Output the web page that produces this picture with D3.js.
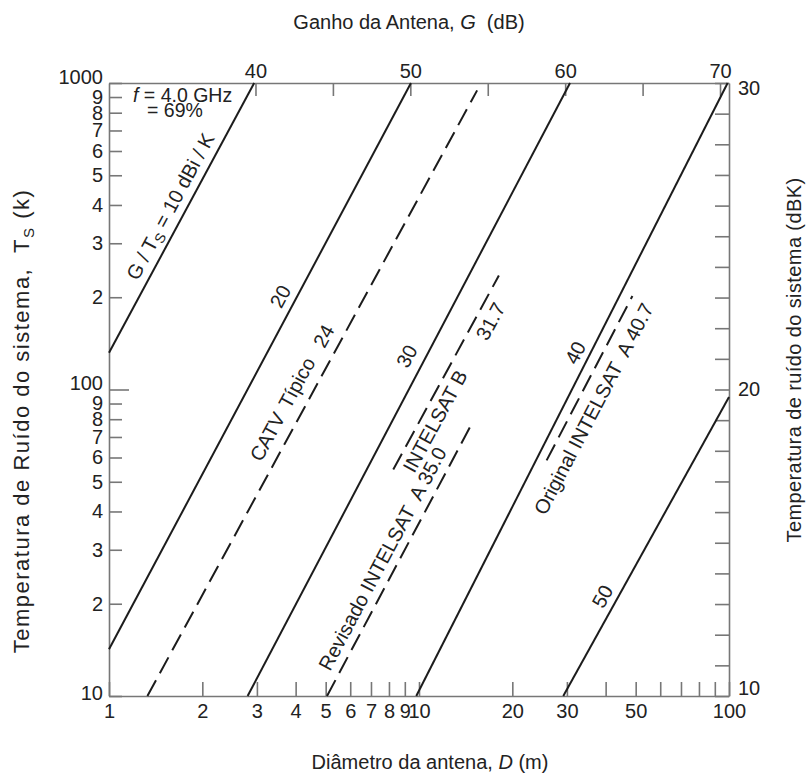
<!DOCTYPE html>
<html>
<head>
<meta charset="utf-8">
<script src="https://cdn.jsdelivr.net/npm/d3@7"></script>
<style>
  body { margin: 0; background: #fff; }
  text { font-family: "Liberation Sans", Arial, Helvetica, sans-serif; fill: #222; white-space: pre; }
</style>
</head>
<body>
<div id="chart"></div>
<script>
// values
// G/T lines: endpoints in (diameter m, noise temperature K)
const gtValues = [10, 20, 24, 30, 31.7, 35.0, 40, 40.7, 50];
const startD = [1, 1, 1.33, 2.80, 8.26, 5.05, 9.8, 25.8, 29.2];
const startT = [131.7, 14.2, 10, 10, 54.8, 10, 10, 58.7, 10];
const endD = [2.94, 9.42, 15.4, 30.7, 18.1, 14.9, 99, 48.8, 100];
const endT = [1000, 1000, 946, 1000, 235.5, 78.3, 1000, 201.8, 94.5];
const dashedValues = [24, 31.7, 35.0, 40.7];

// labels along the lines (anchor in data coords, line index for angle)
const labelTexts = ["20", "CATV", "Típico", "24", "30", "INTELSAT B", "31.7",
  "Revisado INTELSAT  A 35.0", "40", "Original INTELSAT  A 40.7", "50"];
const labelD = [3.61, 3.28, 4.08, 4.98, 9.24, 11.4, 17.2, 7.71, 32.3, 37.0, 39.5];
const labelT = [200, 69.7, 104.5, 148.4, 127.6, 78.3, 166, 27.9, 131, 86, 21];
const labelLine = [1, 2, 2, 2, 3, 4, 4, 5, 6, 7, 8];
const gtLabelD = 1.597, gtLabelT = 393;

// axes
const bottomTicks = [1, 2, 3, 4, 5, 6, 7, 8, 9, 10, 20, 30, 40, 50, 60, 70, 80, 90, 100];
const bottomLabels = [1, 2, 3, 4, 5, 6, 7, 8, 9, 10, 20, 30, 50, 100];
const leftTicks = [10, 20, 30, 40, 50, 60, 70, 80, 90, 100, 200, 300, 400, 500, 600, 700, 800, 900, 1000];
const gainDomain = [30.54, 70.58];
const gainTicks = [40, 45, 50, 55, 60, 65, 70];
const gainLabels = [40, 50, 60, 70];
const dbkDomain = [10, 30];
const dbkTicks = d3.range(10, 31, 1);
const dbkLabels = [10, 20, 30];

var margin = { top: 83, left: 109 },
  width = 620,
  height = 613;

var svg = d3.select("#chart").append("svg")
  .attr("width", 808).attr("height", 773);

var plot = svg.append("g")
  .attr("transform", "translate(" + margin.left + "," + margin.top + ")");

var x = d3.scaleLog().domain([1, 100]).range([0, width]);
var y = d3.scaleLog().domain([10, 1000]).range([height, 0]);
var xg = d3.scaleLinear().domain(gainDomain).range([0, width]);
var yDb = d3.scaleLinear().domain(dbkDomain).range([height, 0]);

var axisColor = "#777";
var fontSize = 20;

function styleAxis(sel) {
  sel.attr("font-size", null).attr("font-family", null);
  sel.select(".domain").attr("stroke", axisColor).attr("stroke-width", 1.6);
  sel.selectAll(".tick line").attr("stroke", axisColor).attr("stroke-width", 1.6);
  sel.selectAll(".tick text").style("font-size", fontSize + "px").attr("fill", "#222");
}

// bottom
var gX = plot.append("g")
  .attr("transform", "translate(0," + height + ")")
  .call(d3.axisBottom(x).tickValues(bottomTicks).tickSize(-14).tickSizeOuter(0).tickPadding(8)
    .tickFormat(function (d) { return bottomLabels.indexOf(d) >= 0 ? d : ""; }))
  .call(styleAxis);

// left
var gY = plot.append("g")
  .call(d3.axisLeft(y).tickValues(leftTicks).tickSize(-13).tickSizeOuter(0).tickPadding(6)
    .tickFormat(function (d) { return [10, 100, 1000].indexOf(d) >= 0 ? d : String(d).charAt(0); }))
  .call(styleAxis);
gY.selectAll(".tick line").filter(function (d) { return d === 100; }).attr("x2", 20);
gY.selectAll(".tick text").filter(function (d) { return d === 100 || d === 1000; }).attr("y", -6);
gY.selectAll(".tick text").filter(function (d) { return d === 10; }).attr("y", -3);

// top (gain)
var gTop = plot.append("g")
  .call(d3.axisTop(xg).tickValues(gainTicks).tickSize(-13).tickSizeOuter(0).tickPadding(5)
    .tickFormat(function (d) { return gainLabels.indexOf(d) >= 0 ? d : ""; }))
  .call(styleAxis);

// right (dBK)
var gR = plot.append("g")
  .attr("transform", "translate(" + width + ",0)")
  .call(d3.axisRight(yDb).tickValues(dbkTicks).tickSize(-14).tickSizeOuter(0).tickPadding(9)
    .tickFormat(function (d) { return dbkLabels.indexOf(d) >= 0 ? d : ""; }))
  .call(styleAxis);
gR.selectAll(".tick text").filter(function (d) { return d === 30; }).attr("y", 5);
gR.selectAll(".tick text").filter(function (d) { return d === 10; }).attr("y", -8);

// G/T lines
var lines = gtValues.map(function (v, i) {
  return { v: v, pts: [[startD[i], startT[i]], [endD[i], endT[i]]] };
});
var lineGen = d3.line()
  .x(function (d) { return x(d[0]); })
  .y(function (d) { return y(d[1]); });

plot.selectAll("path.gt")
  .data(lines)
  .join("path")
  .attr("class", "gt")
  .attr("d", function (d) { return lineGen(d.pts); })
  .attr("fill", "none")
  .attr("stroke", "#1c1c1c")
  .attr("stroke-width", 2)
  .attr("stroke-dasharray", function (d) { return dashedValues.indexOf(d.v) >= 0 ? "18,8" : null; });

function lineAngle(i) {
  var p = lines[i].pts;
  return Math.atan2(y(p[1][1]) - y(p[0][1]), x(p[1][0]) - x(p[0][0])) * 180 / Math.PI;
}

// line labels
plot.selectAll("text.lbl")
  .data(labelTexts)
  .join("text")
  .attr("class", "lbl")
  .attr("text-anchor", "middle")
  .attr("dominant-baseline", "middle")
  .style("font-size", fontSize + "px")
  .attr("transform", function (d, i) {
    return "translate(" + x(labelD[i]) + "," + y(labelT[i]) + ") rotate(" + lineAngle(labelLine[i]) + ")";
  })
  .text(function (d) { return d; });

// G/Ts label with subscript
var gtLbl = plot.append("text")
  .attr("text-anchor", "middle")
  .attr("dominant-baseline", "middle")
  .style("font-size", fontSize + "px")
  .attr("transform", "translate(" + x(gtLabelD) + "," + y(gtLabelT) + ") rotate(" + lineAngle(0) + ")");
gtLbl.append("tspan").text("G / T");
gtLbl.append("tspan").attr("dy", 5).style("font-size", "14px").text("S");
gtLbl.append("tspan").attr("dy", -5).text(" = 10 dBi / K");

// f / efficiency note
var note = plot.append("text").attr("x", 24).attr("y", 19).style("font-size", "19.5px");
note.append("tspan").style("font-style", "italic").text("f");
note.append("tspan").text(" = 4.0 GHz");
plot.append("text").attr("x", 38).attr("y", 34).style("font-size", "19.5px").text("= 69%");

// axis titles
var topTitle = svg.append("text")
  .attr("x", 409).attr("y", 29)
  .attr("text-anchor", "middle")
  .style("font-size", fontSize + "px");
topTitle.append("tspan").text("Ganho da Antena, ");
topTitle.append("tspan").style("font-style", "italic").text("G");
topTitle.append("tspan").text("  (dB)");

var botTitle = svg.append("text")
  .attr("x", 430).attr("y", 769)
  .attr("text-anchor", "middle")
  .style("font-size", fontSize + "px");
botTitle.append("tspan").text("Diâmetro da antena, ");
botTitle.append("tspan").style("font-style", "italic").text("D");
botTitle.append("tspan").text(" (m)");

var leftTitle = svg.append("text")
  .attr("transform", "translate(29,421) rotate(-90)")
  .attr("text-anchor", "middle")
  .style("font-size", "22px")
  .style("letter-spacing", "1.5px");
leftTitle.append("tspan").text("Temperatura de Ruído do sistema,  T");
leftTitle.append("tspan").attr("dy", 5).style("font-size", "15px").text("S");
leftTitle.append("tspan").attr("dy", -5).text(" (k)");

svg.append("text")
  .attr("transform", "translate(801,360) rotate(-90)")
  .attr("text-anchor", "middle")
  .style("font-size", fontSize + "px")
  .style("letter-spacing", "0.4px")
  .text("Temperatura de ruído do sistema (dBK)");
</script>
</body>
</html>
